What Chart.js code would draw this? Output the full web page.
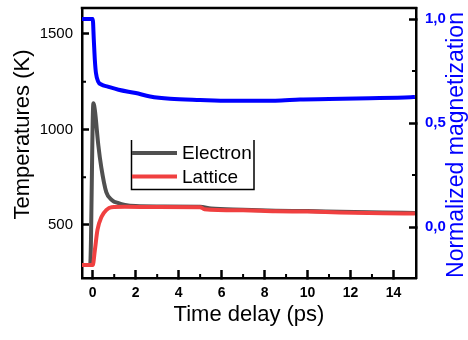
<!DOCTYPE html>
<html>
<head>
<meta charset="utf-8">
<script src="https://cdn.jsdelivr.net/npm/chart.js@4"></script>
<style>
  html, body { margin: 0; padding: 0; background: #fff; }
</style>
</head>
<body>
<canvas id="chart" width="468" height="340"></canvas>
<script>
// time axis (ps) and values
var electronTime = [-0.5, -0.12, 0.03, 0.1, 0.26, 0.4, 0.63, 0.9, 1.2, 1.5, 2, 3, 5, 5.5, 7, 8.5, 10, 11.5, 13.5, 15];
var electronTemp = [290, 290, 1138, 1100, 918, 800, 672, 630, 614, 605, 599, 597, 596, 586, 580, 575, 573, 569, 565, 563];

var latticeTime = [-0.5, 0, 0.1, 0.22, 0.41, 0.64, 0.87, 1.5, 3, 5, 5.2, 7, 8.5, 10, 11.5, 13.5, 15];
var latticeTemp = [290, 290, 369, 474, 543, 579, 593, 595, 594, 593, 583, 577, 572, 570, 566, 562, 560];

var magTime = [-0.5, 0, 0.05, 0.1, 0.15, 0.25, 0.4, 0.7, 1.2, 2, 2.67, 3.6, 5, 6.4, 8.5, 9.65, 11, 12.9, 14.8, 15];
var magValues = [1.0, 1.0, 0.90, 0.80, 0.74, 0.70, 0.685, 0.675, 0.66, 0.644, 0.628, 0.617, 0.611, 0.607, 0.607, 0.613, 0.615, 0.619, 0.624, 0.625];

var xTickValues = [0, 2, 4, 6, 8, 10, 12, 14];
var xMinorTicks = [1, 3, 5, 7, 9, 11, 13];
var yTickValues = [500, 1000, 1500];
var yMinorTicks = [750, 1250];
var y2TickValues = [0, 0.5, 1.0];
var y2MinorTicks = [0.25, 0.75];

var FONT = '"Liberation Sans", Arial, sans-serif';

function toPoints(xs, ys) {
  return xs.map(function(x, i) { return {x: x, y: ys[i]}; });
}

// keep the plot area where the figure has it
function noPad(s) {
  s.paddingTop = 0; s.paddingBottom = 0;
  s.paddingLeft = 0; s.paddingRight = 0;
}

var extras = {
  id: 'extras',
  afterDraw: function(chart) {
    var ctx = chart.ctx, a = chart.chartArea;
    var sx = chart.scales.x, sy = chart.scales.y, sy2 = chart.scales.y2;
    ctx.save();
    ctx.strokeStyle = '#000';

    // top frame line
    ctx.lineWidth = 2.5;
    ctx.beginPath();
    ctx.moveTo(a.left - 1.25, a.top);
    ctx.lineTo(a.right + 1.25, a.top);
    ctx.stroke();

    // minor ticks, pointing in
    ctx.lineWidth = 2;
    ctx.beginPath();
    xMinorTicks.forEach(function(v) {
      var p = sx.getPixelForValue(v);
      ctx.moveTo(p, a.bottom); ctx.lineTo(p, a.bottom - 4);
    });
    yMinorTicks.forEach(function(v) {
      var p = sy.getPixelForValue(v);
      ctx.moveTo(a.left, p); ctx.lineTo(a.left + 4, p);
    });
    y2MinorTicks.forEach(function(v) {
      var p = sy2.getPixelForValue(v);
      ctx.moveTo(a.right, p); ctx.lineTo(a.right - 4, p);
    });
    ctx.stroke();

    // legend box (no top edge)
    ctx.lineWidth = 1.5;
    ctx.beginPath();
    ctx.moveTo(131.5, 140); ctx.lineTo(131.5, 189.5);
    ctx.lineTo(254, 189.5); ctx.lineTo(254, 140);
    ctx.stroke();

    ctx.font = '19px ' + FONT;
    ctx.textAlign = 'left';
    ctx.textBaseline = 'middle';
    var rowY = [153, 176.5];
    chart.data.datasets.forEach(function(ds, i) {
      if (ds.yAxisID !== 'y') return;
      ctx.strokeStyle = ds.borderColor;
      ctx.lineWidth = 4;
      ctx.beginPath();
      ctx.moveTo(132, rowY[i]); ctx.lineTo(177, rowY[i]);
      ctx.stroke();
      ctx.fillStyle = '#000';
      ctx.fillText(ds.label, 182, rowY[i] + 1);
    });

    // vertical axis titles, both reading bottom to top
    ctx.font = '22px ' + FONT;
    ctx.textAlign = 'center';
    ctx.fillStyle = '#000';
    ctx.save();
    ctx.translate(23, 134.5);
    ctx.rotate(-Math.PI / 2);
    ctx.fillText('Temperatures (K)', 0, 0);
    ctx.restore();

    ctx.font = '23px ' + FONT;
    ctx.fillStyle = '#0000ff';
    ctx.save();
    ctx.translate(457, 145);
    ctx.rotate(-Math.PI / 2);
    ctx.fillText('Normalized magnetization', 0, 0);
    ctx.restore();

    ctx.restore();
  }
};

var ctx = document.getElementById('chart').getContext('2d');
var chart = new Chart(ctx, {
  type: 'line',
  data: {
    datasets: [{
      label: 'Electron',
      data: toPoints(electronTime, electronTemp),
      borderColor: '#505050',
      yAxisID: 'y',
      order: 2
    }, {
      label: 'Lattice',
      data: toPoints(latticeTime, latticeTemp),
      borderColor: '#f04040',
      yAxisID: 'y',
      order: 1
    }, {
      label: 'Magnetization',
      data: toPoints(magTime, magValues),
      borderColor: '#0000ff',
      yAxisID: 'y2',
      order: 3
    }]
  },
  options: {
    responsive: false,
    animation: false,
    layout: { padding: { top: 8, left: 0, right: 0, bottom: 0 } },
    elements: {
      point: { radius: 0 },
      line: { borderWidth: 4, cubicInterpolationMode: 'monotone', fill: false }
    },
    plugins: {
      legend: { display: false },
      tooltip: { enabled: false }
    },
    scales: {
      x: {
        type: 'linear',
        position: 'bottom',
        min: -0.5,
        max: 15.05,
        afterBuildTicks: function(s) { s.ticks = xTickValues.map(function(v) { return {value: v}; }); },
        afterFit: function(s) { s.height = 62; noPad(s); },
        ticks: { font: { family: FONT, size: 14, weight: 'bold' }, color: '#000', padding: 15, maxRotation: 0,
                 callback: function(v) { return String(v); } },
        grid: { drawOnChartArea: false, tickLength: -8, tickWidth: 2.5, tickColor: '#000' },
        border: { color: '#000', width: 2.5 },
        title: { display: true, text: 'Time delay (ps)', color: '#000',
                 font: { family: FONT, size: 22 }, padding: { top: 0, bottom: 12 } }
      },
      y: {
        type: 'linear',
        position: 'left',
        min: 222.5,
        max: 1636,
        afterBuildTicks: function(s) { s.ticks = yTickValues.map(function(v) { return {value: v}; }); },
        afterFit: function(s) { s.width = 82; noPad(s); },
        ticks: { font: { family: FONT, size: 15 }, color: '#000', padding: 16,
                 callback: function(v) { return String(v); } },
        grid: { drawOnChartArea: false, tickLength: -7, tickWidth: 2.5, tickColor: '#000' },
        border: { color: '#000', width: 2.5 }
      },
      y2: {
        type: 'linear',
        position: 'right',
        min: -0.245,
        max: 1.053,
        afterBuildTicks: function(s) { s.ticks = y2TickValues.map(function(v) { return {value: v}; }); },
        afterFit: function(s) { s.width = 52; noPad(s); },
        ticks: { font: { family: FONT, size: 15, weight: 'bold' }, color: '#0000ff', padding: 16,
                 callback: function(v) { return v.toFixed(1).replace('.', ','); } },
        grid: { drawOnChartArea: false, tickLength: -7, tickWidth: 2.5, tickColor: '#000' },
        border: { color: '#000', width: 2.5 }
      }
    }
  },
  plugins: [extras]
});
</script>
</body>
</html>
